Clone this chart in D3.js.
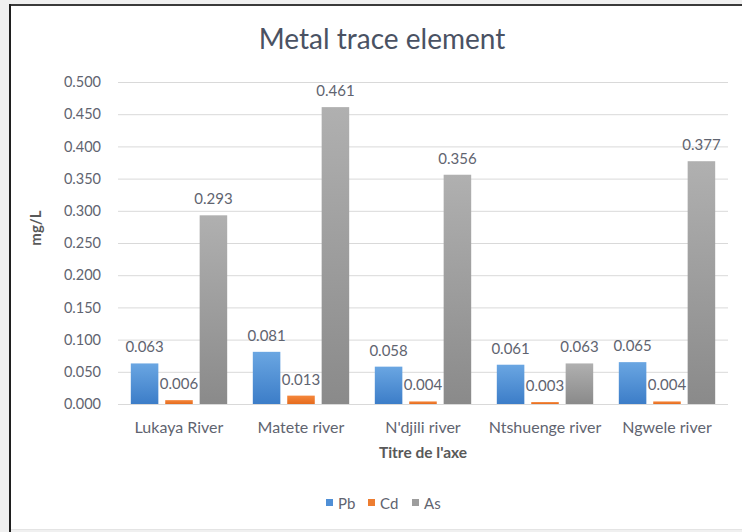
<!DOCTYPE html>
<html>
<head>
<meta charset="utf-8">
<script src="https://cdn.jsdelivr.net/npm/d3@7"></script>
<style>
  body { margin: 0; background: #f0f0f0; }
  svg { display: block; font-family: Lato, "Open Sans", sans-serif; }
</style>
</head>
<body>
<svg width="742" height="532"></svg>
<script>
var categories = ["Lukaya River", "Matete river", "N'djili river", "Ntshuenge river", "Ngwele river"];
var series = ["Pb", "Cd", "As"];
var pbValues = [0.063, 0.081, 0.058, 0.061, 0.065];
var cdValues = [0.006, 0.013, 0.004, 0.003, 0.004];
var asValues = [0.293, 0.461, 0.356, 0.063, 0.377];
var yTicks = [0, 0.05, 0.1, 0.15, 0.2, 0.25, 0.3, 0.35, 0.4, 0.45, 0.5];

var svg = d3.select("svg");

// frame around the chart area
svg.append("rect").attr("x", 0).attr("y", 0).attr("width", 742).attr("height", 532).attr("fill", "#f0f0f0");
svg.append("rect").attr("x", 10).attr("y", 5).attr("width", 740).attr("height", 524).attr("fill", "#fff");
svg.append("line").attr("x1", 9).attr("x2", 742).attr("y1", 5).attr("y2", 5).attr("stroke", "#3a3a3a").attr("stroke-width", 2);
svg.append("line").attr("x1", 10).attr("x2", 10).attr("y1", 4).attr("y2", 532).attr("stroke", "#1f1f1f").attr("stroke-width", 2);
svg.append("line").attr("x1", 11).attr("x2", 742).attr("y1", 529.5).attr("y2", 529.5).attr("stroke", "#e4e4e4");

var defs = svg.append("defs");
function grad(id, c1, c2) {
  var g = defs.append("linearGradient").attr("id", id).attr("x1", 0).attr("x2", 0).attr("y1", 0).attr("y2", 1);
  g.append("stop").attr("offset", "0%").attr("stop-color", c1);
  g.append("stop").attr("offset", "100%").attr("stop-color", c2);
}
grad("gPb", "#6aa6e2", "#3c7dc8");
grad("gCd", "#f5873c", "#e56b1d");
grad("gAs", "#b0b0b0", "#8a8a8a");
var fills = { Pb: "url(#gPb)", Cd: "url(#gCd)", As: "url(#gAs)" };
var swatch = { Pb: "#4f8fd6", Cd: "#ed7d31", As: "#9d9d9d" };

var plotLeft = 118, plotRight = 728, plotTop = 82, plotBottom = 404;

var x0 = d3.scaleBand().domain(categories).range([plotLeft, plotRight]).paddingInner(0.21).paddingOuter(0.105);
var x1 = d3.scaleBand().domain(series).range([0, x0.bandwidth()]).paddingInner(0.2);
var y = d3.scaleLinear().domain([0, 0.5]).range([plotBottom, plotTop]);

// gridlines + y labels
var yAxis = svg.append("g")
  .attr("transform", "translate(" + plotLeft + ",0)")
  .call(d3.axisLeft(y).tickValues(yTicks).tickFormat(d3.format(".3f")).tickSize(-(plotRight - plotLeft)).tickPadding(17));
yAxis.select(".domain").remove();
yAxis.selectAll(".tick line").attr("stroke", "#d9d9d9");
yAxis.selectAll(".tick text").attr("fill", "#5f6470").style("font-size", "14.5px").style("font-family", "Lato, sans-serif");

var rows = categories.map(function(c, i) {
  return { name: c, values: [
    { key: "Pb", value: pbValues[i] },
    { key: "Cd", value: cdValues[i] },
    { key: "As", value: asValues[i] }
  ] };
});

var group = svg.selectAll(".grp")
  .data(rows)
  .enter().append("g")
  .attr("class", "grp")
  .attr("transform", function(d) { return "translate(" + x0(d.name) + ",0)"; });

group.selectAll("rect")
  .data(function(d) { return d.values; })
  .enter().append("rect")
  .attr("x", function(d) { return x1(d.key); })
  .attr("y", function(d) { return y(d.value); })
  .attr("width", x1.bandwidth())
  .attr("height", function(d) { return y(0) - y(d.value); })
  .attr("fill", function(d) { return fills[d.key]; });

group.selectAll("text.val")
  .data(function(d) { return d.values; })
  .enter().append("text")
  .attr("class", "val")
  .attr("x", function(d) { return x1(d.key) + x1.bandwidth() / 2; })
  .attr("y", function(d) { return y(d.value) - 11; })
  .attr("text-anchor", "middle")
  .attr("fill", "#5f6470")
  .style("font-size", "15px")
  .text(function(d) { return d3.format(".3f")(d.value); });

// category labels
svg.append("g").selectAll("text")
  .data(categories)
  .enter().append("text")
  .attr("x", function(d) { return x0(d) + x0.bandwidth() / 2; })
  .attr("y", 433)
  .attr("text-anchor", "middle")
  .attr("fill", "#5f6470")
  .style("font-size", "16px")
  .text(function(d) { return d; });

// titles
svg.append("text").attr("x", 382).attr("y", 49).attr("text-anchor", "middle")
  .attr("fill", "#4a5263").style("font-size", "28px").text("Metal trace element");
svg.append("text").attr("x", 423).attr("y", 458).attr("text-anchor", "middle")
  .attr("fill", "#595959").style("font-size", "15.5px").style("font-weight", "bold").text("Titre de l'axe");
svg.append("text").attr("transform", "translate(41,228) rotate(-90)").attr("text-anchor", "middle")
  .attr("fill", "#595959").style("font-size", "15px").style("font-weight", "bold").text("mg/L");

// legend
var legendX = { Pb: 326, Cd: 368, As: 412 };
var leg = svg.append("g").selectAll("g")
  .data(series)
  .enter().append("g")
  .attr("transform", function(d) { return "translate(" + legendX[d] + ",503)"; });
leg.append("rect").attr("x", 0).attr("y", -4).attr("width", 7).attr("height", 7)
  .attr("fill", function(d) { return swatch[d]; });
leg.append("text").attr("x", 12).attr("y", 5.5).attr("fill", "#5f6470").style("font-size", "15px")
  .text(function(d) { return d; });
</script>
</body>
</html>
